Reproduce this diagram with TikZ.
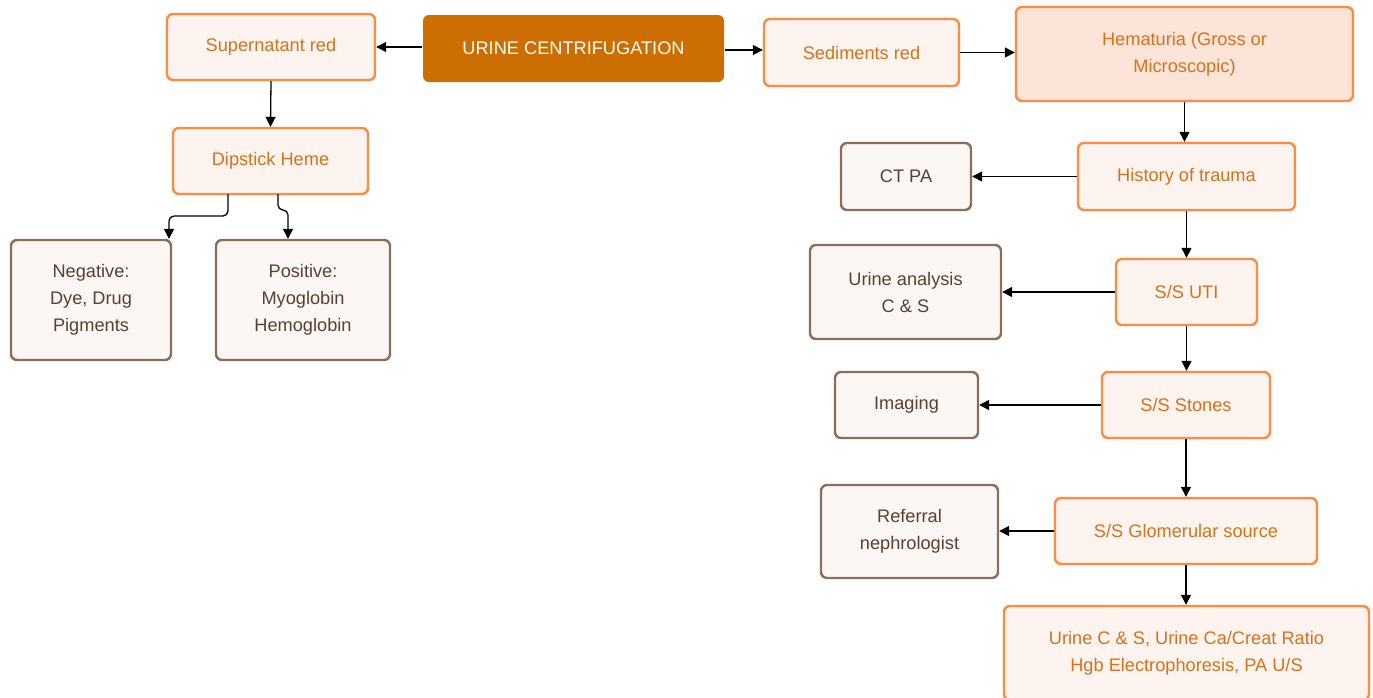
\documentclass[tikz,border=0pt]{standalone}
\usepackage{fontspec}
\setmainfont{Liberation Sans}
\usetikzlibrary{arrows.meta}
\definecolor{obord}{RGB}{255,138,64}
\definecolor{ofill}{RGB}{253,243,239}
\definecolor{hfill}{RGB}{253,228,217}
\definecolor{otext}{RGB}{214,114,26}
\definecolor{dfill}{RGB}{204,110,0}
\definecolor{bbord}{RGB}{142,108,88}
\definecolor{bfill}{RGB}{251,247,245}
\definecolor{btext}{RGB}{90,63,50}
\tikzset{
  base/.style={rounded corners=6pt, line width=2.4pt, align=center, inner sep=0pt,
    font=\fontsize{18.2}{27}\selectfont},
  obox/.style={base, draw=obord, fill=ofill, text=otext},
  hbox/.style={base, draw=obord, fill=hfill, text=otext},
  bbox/.style={base, draw=bbord, fill=bfill, text=btext},
  mainbox/.style={base, draw=none, fill=dfill, text=white},
  conn/.style={line width=1.3pt, black, -{Triangle[length=10pt,width=10pt]}},
}
\begin{document}
\begin{tikzpicture}[x=1pt,y=-1pt]
\useasboundingbox (0,0) rectangle (1373,697);
\begin{scope}
\clip (0,0) rectangle (1373,697);
\node[obox, minimum width=208pt, minimum height=66pt] (sup) at (271,47) {Supernatant red};
\node[mainbox, minimum width=301pt, minimum height=67pt] (uc) at (573.5,48.5) {URINE CENTRIFUGATION};
\node[obox, minimum width=195pt, minimum height=67pt] (sed) at (861.5,52.5) {Sediments red};
\node[hbox, minimum width=337pt, minimum height=94pt] (hem) at (1184.5,54) {Hematuria (Gross or\\Microscopic)};
\node[obox, minimum width=195pt, minimum height=66pt] (dip) at (270.5,161) {Dipstick Heme};
\node[bbox, minimum width=160pt, minimum height=120pt] (neg) at (91,300) {Negative:\\Dye, Drug\\Pigments};
\node[bbox, minimum width=174pt, minimum height=120pt] (pos) at (303,300) {Positive:\\Myoglobin\\Hemoglobin};
\node[bbox, minimum width=130pt, minimum height=67pt] (ct) at (906,176.5) {CT PA};
\node[obox, minimum width=217pt, minimum height=67pt] (hist) at (1186.5,176.5) {History of trauma};
\node[bbox, minimum width=191pt, minimum height=94pt] (ua) at (905.5,292) {Urine analysis\\C \& S};
\node[obox, minimum width=141pt, minimum height=66pt] (uti) at (1186.5,292) {S/S UTI};
\node[bbox, minimum width=143pt, minimum height=66pt] (img) at (906.5,405) {Imaging};
\node[obox, minimum width=168pt, minimum height=66pt] (sto) at (1186,405) {S/S Stones};
\node[bbox, minimum width=177pt, minimum height=93pt] (ref) at (909.5,531.5) {Referral\\nephrologist};
\node[obox, minimum width=262pt, minimum height=66pt] (glo) at (1186,531) {S/S Glomerular source};
\node[obox, minimum width=365pt, minimum height=94pt] (fin) at (1186.5,653) {Urine C \& S, Urine Ca/Creat Ratio\\Hgb Electrophoresis, PA U/S};
\end{scope}
\draw[conn] (uc.west |- sup.east) -- (sup.east);
\draw[conn] (uc.east |- 0,50) -- (sed.west |- 0,50);
\draw[conn] (sed.east) -- (hem.west |- sed.east);
\draw[conn] (sup.south) -- (dip.south |- dip.north);
\coordinate (d1) at (228,194);
\coordinate (d2) at (278,194);
\draw[conn, rounded corners=5pt] (d1) -- (228,216) -- (169,216) -- (169,240) -- (neg.north -| 169,0);
\draw[conn, rounded corners=5pt] (d2) -- (278,210) -- (288,210) -- (pos.north -| 288,0);
\draw[conn] (hem.south) -- (hist.north -| hem.south);
\draw[conn] (hist.west) -- (ct.east);
\draw[conn] (hist.south) -- (uti.north);
\draw[conn] (uti.west) -- (ua.east);
\draw[conn] (uti.south) -- (sto.north -| uti.south);
\draw[conn] (sto.west) -- (img.east);
\draw[conn] (sto.south) -- (glo.north);
\draw[conn] (glo.west) -- (ref.east |- glo.west);
\draw[conn] (glo.south) -- (fin.north -| glo.south);
\end{tikzpicture}
\end{document}
